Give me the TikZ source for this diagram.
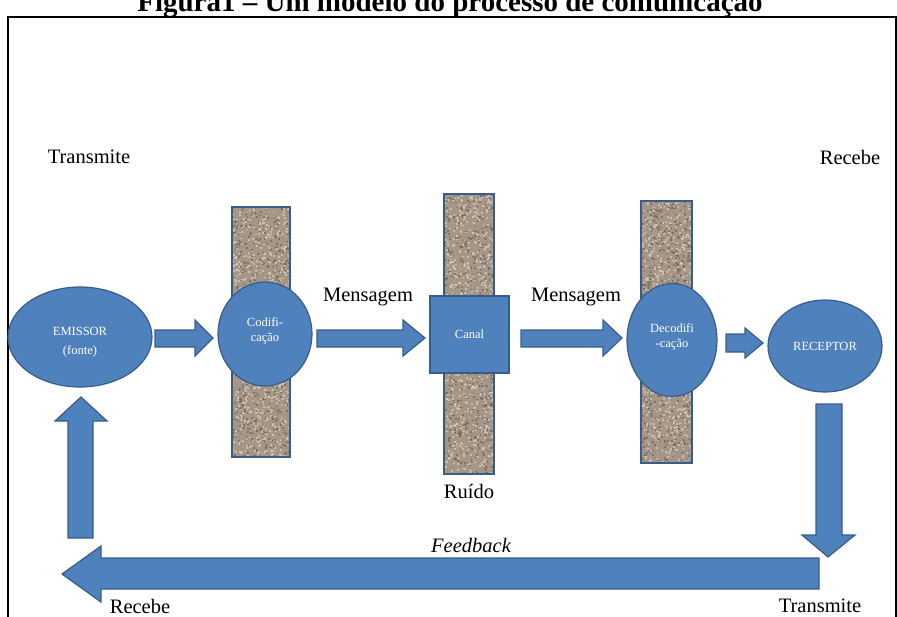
\documentclass[tikz,border=0pt]{standalone}
\usepackage{fontspec}
\setmainfont{Liberation Serif}
\usetikzlibrary{shapes.geometric}

\definecolor{shapeblue}{HTML}{4F81BD}
\definecolor{shapeedge}{HTML}{385D8A}
\definecolor{granite}{HTML}{A59687}
\definecolor{graniteDark}{HTML}{6A5E52}
\definecolor{graniteLight}{HTML}{D6CDC2}

% noise bar with a speckled stone-like fill: corners (x1,y1) (x2,y2)
\newcommand{\granitebar}[4]{%
  \begin{scope}
    \clip (#1,#2) rectangle (#3,#4);
    \fill[granite] (#1,#2) rectangle (#3,#4);
    \foreach \k in {1,...,700}{%
      \pgfmathsetmacro{\px}{#1+rnd*(#3-#1)}%
      \pgfmathsetmacro{\py}{#2+rnd*(#4-#2)}%
      \fill[graniteDark,opacity=0.6] (\px,\py) rectangle ++(1.9,1.6);
    }
    \foreach \k in {1,...,700}{%
      \pgfmathsetmacro{\px}{#1+rnd*(#3-#1)}%
      \pgfmathsetmacro{\py}{#2+rnd*(#4-#2)}%
      \fill[graniteLight,opacity=0.7] (\px,\py) rectangle ++(2.0,1.7);
    }
  \end{scope}
  \draw[shapeedge,line width=1.3] (#1,#2) rectangle (#3,#4);
}

\tikzset{
  bluebox/.style={fill=shapeblue,draw=shapeedge,line width=1.2,inner sep=0pt,
    text=white,align=center,font=\fontsize{12.5}{14.5}\selectfont},
  oval/.style={bluebox,ellipse},
  inner text/.style={text=white,align=center,inner sep=0pt,font=\fontsize{12.5}{14.5}\selectfont},
  blockarrow/.style={fill=shapeblue,draw=shapeedge,line width=1.2,line join=miter},
  label text/.style={font=\fontsize{20.5}{24}\selectfont,inner sep=0pt},
}

\begin{document}
\begin{tikzpicture}[x=1pt,y=-1pt]
\pgfmathsetseed{4711}
\useasboundingbox (0,0) rectangle (897,616);

% caption and frame
\node[font=\bfseries\fontsize{29}{33}\selectfont,anchor=base,inner sep=0pt] (title) at (450,11)
  {Figura1 – Um modelo do processo de comunicação};
\draw[line width=1.2] (8,640) -- (8,17) -- (896,17) -- (896,640);

% noise bars
\granitebar{232}{207}{290}{457}
\granitebar{444}{194}{494}{474}
\granitebar{641}{201}{692}{463}

% stages of the process
\node[oval,minimum width=144,minimum height=100] (emissor) at (80,337) {};
\node[inner text] (emissortext) at (80,342) {EMISSOR\\[4pt](fonte)};
\node[oval,minimum width=94,minimum height=104] (cod) at (265,334) {};
\node[inner text] (codtext) at (265,331) {Codifi-\\cação};
\node[bluebox,rectangle,minimum width=79,minimum height=77] (canal) at (469.5,334.5) {Canal};
\node[oval,minimum width=90,minimum height=113] (dec) at (672,340) {};
\node[inner text] (dectext) at (672,337) {Decodifi\\-cação};
\node[oval,minimum width=114,minimum height=92] (receptor) at (825,346) {RECEPTOR};

% block arrows
\draw[blockarrow] (155,330) -- (195,330) -- (195,320) -- (213,338) -- (195,356) -- (195,347) -- (155,347) -- cycle;
\draw[blockarrow] (317,330) -- (403,330) -- (403,320) -- (425,338) -- (403,356) -- (403,347) -- (317,347) -- cycle;
\draw[blockarrow] (521,330) -- (603,330) -- (603,320) -- (622,338) -- (603,356) -- (603,347) -- (521,347) -- cycle;
\draw[blockarrow] (726,334) -- (745,334) -- (745,328) -- (763,343) -- (745,358) -- (745,352) -- (726,352) -- cycle;
\draw[blockarrow] (68,538) -- (68,421) -- (55,421) -- (81,397) -- (107,421) -- (93,421) -- (93,538) -- cycle;
\draw[blockarrow] (816,404) -- (842,404) -- (842,535) -- (855,535) -- (828,557) -- (802,535) -- (816,535) -- cycle;
\draw[blockarrow] (819,558) -- (819,589) -- (101,589) -- (101,602) -- (62,574) -- (101,546) -- (101,558) -- cycle;

% labels
\node[label text] (t1) at (89,157) {Transmite};
\node[label text] (r1) at (850,157) {Recebe};
\node[label text] (m1) at (368,297) {Mensagem};
\node[label text] (m2) at (576,297) {Mensagem};
\node[label text] (ruido) at (469,491) {Ruído};
\node[label text,font=\itshape\fontsize{20.5}{24}\selectfont] (fb) at (471,545) {Feedback};
\node[label text] (r2) at (140,606) {Recebe};
\node[label text] (t2) at (820,606) {Transmite};
\end{tikzpicture}
\end{document}
